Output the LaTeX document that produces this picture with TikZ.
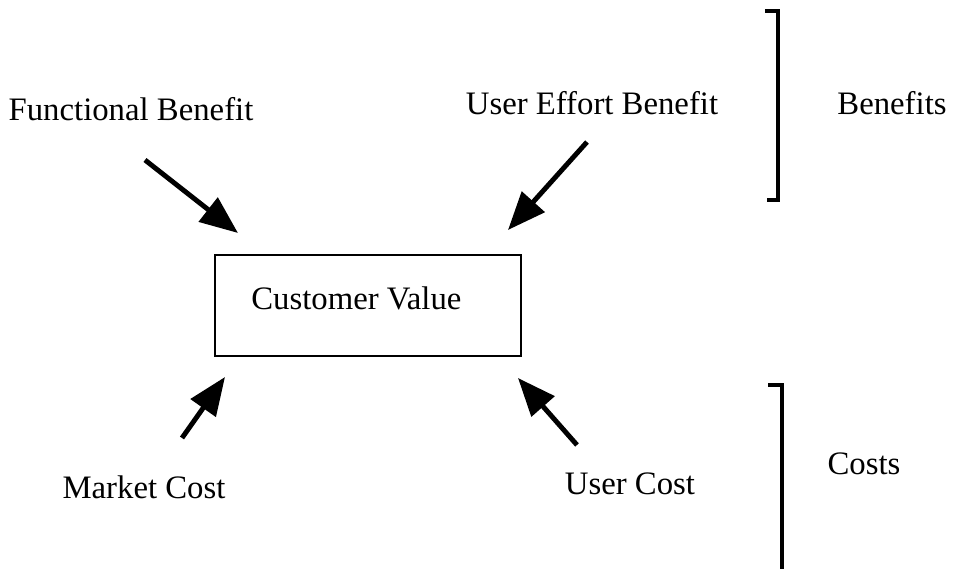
\documentclass[tikz,border=0pt]{standalone}
\usepackage{fontspec}
\setmainfont{Liberation Serif}
\usetikzlibrary{arrows.meta}

\tikzset{
  label/.style={anchor=base,inner sep=0pt,font=\fontsize{23.3}{28}\selectfont},
  valuebox/.style={draw,line width=2.1pt,minimum width=7.65cm,minimum height=2.525cm},
  push/.style={line width=3.5pt,-{Triangle[length=0.95cm,width=0.75cm]}},
  brace/.style={line width=2.8pt}
}

\begin{document}
\begin{tikzpicture}
  \useasboundingbox (0,0) rectangle (23.95,14.225);
  % value box
  \node[valuebox] (value) at (9.2,6.5875) {};
  \node[label] (valuetext) at (8.91,6.475) {Customer Value};
  % benefits
  \node[label] (functional) at (3.275,11.2) {Functional Benefit};
  \node[label] (effort) at (14.8,11.35) {User Effort Benefit};
  \node[label] (benefits) at (22.3,11.35) {Benefits};
  \coordinate (functionalfrom) at (3.625,10.225);
  \coordinate (functionalto) at (5.95,8.4);
  \coordinate (effortfrom) at (14.675,10.675);
  \coordinate (effortto) at (12.7,8.475);
  \draw[push] (functionalfrom) -- (functionalto);
  \draw[push] (effortfrom) -- (effortto);
  \coordinate (benefitstop) at (19.45,13.95);
  \coordinate (benefitsbottom) at (19.45,9.225);
  \draw[brace] ([xshift=-0.33cm]benefitstop) -- (benefitstop) -- (benefitsbottom) -- ([xshift=-0.28cm]benefitsbottom);
  % costs
  \node[label] (market) at (3.6,1.775) {Market Cost};
  \node[label] (usercost) at (15.75,1.85) {User Cost};
  \node[label] (costs) at (21.6,2.35) {Costs};
  \coordinate (marketfrom) at (4.55,3.275);
  \coordinate (marketto) at (5.625,4.8);
  \coordinate (usercostfrom) at (14.425,3.1);
  \coordinate (usercostto) at (12.95,4.775);
  \draw[push] (marketfrom) -- (marketto);
  \draw[push] (usercostfrom) -- (usercostto);
  \coordinate (coststop) at (19.55,4.6);
  \coordinate (costsbottom) at (19.55,0);
  \draw[brace] ([xshift=-0.35cm]coststop) -- (coststop) -- (costsbottom);
\end{tikzpicture}
\end{document}
